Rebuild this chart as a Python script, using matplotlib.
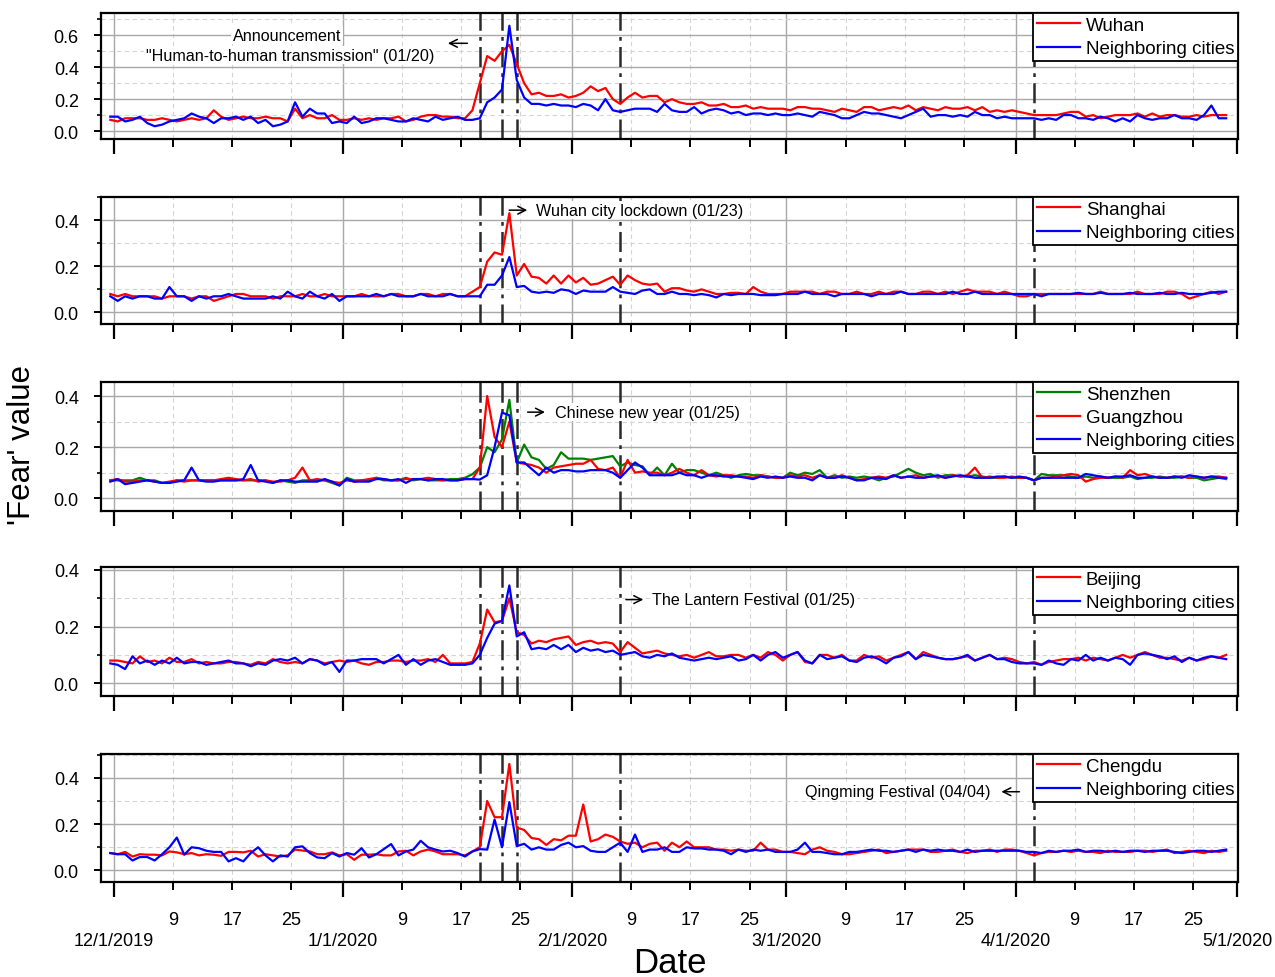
import numpy as np
import matplotlib
matplotlib.use("Agg")
import matplotlib.pyplot as plt
from matplotlib.ticker import MultipleLocator, FormatStrFormatter

plt.rcParams['font.family'] = ['Liberation Sans', 'DejaVu Sans']

# ---------------- data (daily, 12/1/2019 .. 4/30/2020) ----------------
wuhan = [
    # Dec
    0.07,0.06,0.08,0.08,0.08,0.07,0.07,0.08,0.07,0.06, 0.07,0.08,0.07,0.08,0.13,0.09,0.07,0.08,0.09,0.08,
    0.08,0.09,0.08,0.08,0.06,0.14,0.08,0.10,0.08,0.08,0.10,
    # Jan
    0.07,0.07,0.08,0.07,0.08,0.07,0.08,0.08,0.09,0.06, 0.07,0.09,0.10,0.10,0.09,0.09,0.08,0.08,0.13,0.30,
    0.47,0.44,0.50,0.54,0.42,0.30,0.23,0.24,0.22,0.22,0.23,
    # Feb
    0.21,0.22,0.24,0.28,0.25,0.27,0.20,0.17,0.21,0.24, 0.21,0.22,0.22,0.18,0.20,0.18,0.17,0.17,0.18,0.16,
    0.16,0.17,0.15,0.15,0.16,0.14,0.15,0.14,0.14,
    # Mar
    0.14,0.13,0.15,0.15,0.14,0.14,0.13,0.12,0.14,0.13, 0.12,0.15,0.15,0.13,0.14,0.15,0.14,0.16,0.13,0.15,
    0.14,0.13,0.15,0.14,0.14,0.15,0.13,0.15,0.12,0.13,0.12,
    # Apr
    0.13,0.12,0.11,0.10,0.10,0.10,0.10,0.11,0.12,0.12, 0.09,0.10,0.08,0.09,0.10,0.10,0.10,0.11,0.09,0.11,
    0.09,0.10,0.10,0.09,0.09,0.10,0.09,0.10,0.10,0.10]
wuhan_nb = [
    0.09,0.09,0.06,0.07,0.09,0.05,0.03,0.04,0.06,0.07, 0.08,0.11,0.09,0.08,0.05,0.08,0.08,0.09,0.07,0.09,
    0.05,0.07,0.03,0.04,0.06,0.18,0.09,0.14,0.11,0.11,0.05,
    0.06,0.05,0.09,0.05,0.06,0.08,0.08,0.07,0.06,0.06, 0.08,0.07,0.06,0.09,0.07,0.08,0.09,0.07,0.07,0.08,
    0.18,0.21,0.26,0.66,0.32,0.21,0.17,0.17,0.16,0.17,0.16,
    0.16,0.15,0.17,0.16,0.13,0.20,0.13,0.12,0.13,0.14, 0.14,0.14,0.12,0.17,0.13,0.12,0.12,0.15,0.11,0.13,
    0.14,0.13,0.11,0.12,0.10,0.11,0.11,0.10,0.11,
    0.10,0.10,0.11,0.10,0.09,0.12,0.11,0.10,0.08,0.08, 0.10,0.12,0.11,0.11,0.10,0.09,0.08,0.10,0.12,0.14,
    0.09,0.10,0.10,0.09,0.10,0.09,0.12,0.10,0.10,0.08,0.09,
    0.08,0.08,0.08,0.08,0.07,0.08,0.07,0.10,0.10,0.08, 0.08,0.07,0.09,0.08,0.06,0.08,0.06,0.10,0.08,0.07,
    0.08,0.08,0.10,0.08,0.08,0.07,0.10,0.16,0.08,0.08]

shanghai = [
    0.08,0.07,0.08,0.07,0.07,0.07,0.07,0.06,0.07,0.07, 0.07,0.06,0.07,0.07,0.05,0.06,0.07,0.08,0.08,0.07,
    0.07,0.07,0.06,0.07,0.07,0.07,0.08,0.07,0.07,0.08,0.07,
    0.07,0.07,0.07,0.08,0.07,0.07,0.07,0.08,0.08,0.07, 0.07,0.08,0.08,0.07,0.08,0.08,0.07,0.07,0.09,0.11,
    0.22,0.26,0.25,0.43,0.16,0.21,0.155,0.15,0.125,0.16,0.125,
    0.16,0.13,0.15,0.12,0.125,0.14,0.155,0.12,0.16,0.14, 0.125,0.12,0.125,0.09,0.105,0.105,0.095,0.09,0.10,0.09,
    0.08,0.08,0.085,0.085,0.08,0.11,0.09,0.08,0.08,
    0.08,0.09,0.09,0.09,0.09,0.08,0.09,0.09,0.08,0.08, 0.09,0.08,0.08,0.09,0.08,0.09,0.09,0.08,0.08,0.09,
    0.09,0.08,0.09,0.08,0.09,0.10,0.09,0.09,0.09,0.08,0.09,
    0.08,0.07,0.07,0.08,0.08,0.08,0.08,0.08,0.08,0.08, 0.08,0.08,0.09,0.08,0.08,0.08,0.08,0.09,0.08,0.08,
    0.08,0.09,0.09,0.08,0.06,0.07,0.08,0.09,0.08,0.09]
shanghai_nb = [
    0.07,0.05,0.07,0.06,0.07,0.07,0.06,0.06,0.11,0.07, 0.07,0.05,0.07,0.06,0.07,0.07,0.08,0.07,0.06,0.06,
    0.06,0.06,0.07,0.06,0.09,0.07,0.06,0.09,0.07,0.06,0.08,
    0.05,0.07,0.07,0.07,0.07,0.08,0.07,0.08,0.07,0.07, 0.07,0.08,0.07,0.07,0.07,0.08,0.07,0.07,0.07,0.07,
    0.12,0.12,0.16,0.24,0.11,0.115,0.09,0.085,0.09,0.085,0.10,
    0.095,0.08,0.095,0.09,0.09,0.09,0.11,0.09,0.085,0.08, 0.095,0.10,0.08,0.08,0.09,0.08,0.08,0.075,0.08,0.075,
    0.065,0.08,0.075,0.08,0.08,0.08,0.075,0.075,0.075,
    0.08,0.08,0.08,0.09,0.08,0.08,0.08,0.07,0.08,0.08, 0.08,0.08,0.07,0.08,0.08,0.08,0.09,0.08,0.08,0.08,
    0.08,0.08,0.08,0.09,0.08,0.08,0.09,0.08,0.08,0.08,0.08,
    0.08,0.08,0.08,0.08,0.07,0.08,0.08,0.08,0.08,0.085, 0.08,0.08,0.085,0.08,0.08,0.08,0.085,0.08,0.08,0.08,
    0.085,0.08,0.08,0.085,0.08,0.08,0.08,0.085,0.09,0.09]

shenzhen = [
    0.07,0.07,0.07,0.07,0.08,0.07,0.07,0.06,0.06,0.07, 0.07,0.07,0.07,0.07,0.07,0.07,0.07,0.07,0.07,0.07,
    0.07,0.07,0.06,0.07,0.065,0.06,0.07,0.07,0.07,0.07,0.06,
    0.05,0.08,0.07,0.07,0.07,0.08,0.07,0.07,0.07,0.08, 0.07,0.075,0.07,0.07,0.07,0.075,0.075,0.08,0.094,0.12,
    0.20,0.18,0.23,0.385,0.14,0.21,0.16,0.15,0.115,0.13,0.18,
    0.155,0.155,0.155,0.15,0.155,0.16,0.165,0.125,0.14,0.13, 0.125,0.09,0.12,0.09,0.135,0.10,0.11,0.11,0.10,0.09,
    0.10,0.09,0.08,0.09,0.095,0.09,0.09,0.085,0.08,
    0.08,0.10,0.09,0.10,0.095,0.11,0.08,0.09,0.08,0.085, 0.08,0.085,0.08,0.07,0.08,0.085,0.10,0.115,0.10,0.09,
    0.095,0.08,0.09,0.09,0.085,0.085,0.09,0.085,0.08,0.08,0.085,
    0.08,0.08,0.08,0.07,0.095,0.09,0.09,0.09,0.085,0.08, 0.085,0.08,0.085,0.08,0.08,0.08,0.085,0.075,0.08,0.08,
    0.085,0.08,0.08,0.085,0.08,0.08,0.07,0.075,0.08,0.075]
guangzhou = [
    0.07,0.075,0.065,0.065,0.07,0.07,0.065,0.06,0.065,0.07, 0.065,0.07,0.07,0.07,0.07,0.075,0.08,0.075,0.07,0.075,
    0.065,0.07,0.065,0.065,0.07,0.08,0.12,0.07,0.075,0.07,0.065,
    0.06,0.07,0.065,0.07,0.075,0.08,0.075,0.07,0.07,0.075, 0.075,0.075,0.08,0.075,0.07,0.07,0.07,0.075,0.075,0.12,
    0.40,0.24,0.20,0.30,0.14,0.135,0.13,0.12,0.10,0.12,0.125,
    0.13,0.135,0.135,0.15,0.115,0.11,0.12,0.08,0.15,0.10, 0.105,0.10,0.10,0.09,0.10,0.115,0.10,0.09,0.11,0.09,
    0.085,0.09,0.09,0.085,0.085,0.08,0.09,0.085,0.08,
    0.08,0.09,0.085,0.09,0.08,0.09,0.08,0.08,0.09,0.08, 0.07,0.075,0.08,0.085,0.08,0.09,0.08,0.085,0.09,0.08,
    0.085,0.085,0.08,0.09,0.085,0.09,0.12,0.08,0.085,0.08,0.08,
    0.085,0.08,0.08,0.07,0.08,0.08,0.085,0.09,0.095,0.09, 0.065,0.075,0.08,0.08,0.085,0.08,0.11,0.09,0.095,0.085,
    0.08,0.08,0.085,0.085,0.08,0.085,0.08,0.085,0.085,0.08]
guangdong_nb = [
    0.065,0.075,0.055,0.06,0.065,0.07,0.065,0.06,0.06,0.065, 0.07,0.12,0.07,0.065,0.065,0.07,0.07,0.07,0.075,0.13,
    0.07,0.065,0.06,0.07,0.07,0.065,0.065,0.065,0.065,0.075,0.065,
    0.05,0.075,0.065,0.065,0.065,0.075,0.075,0.07,0.075,0.06, 0.075,0.075,0.07,0.075,0.075,0.07,0.07,0.075,0.075,0.073,
    0.09,0.20,0.335,0.325,0.14,0.14,0.115,0.09,0.12,0.10,0.11,
    0.11,0.105,0.105,0.11,0.11,0.11,0.10,0.08,0.11,0.14, 0.12,0.09,0.09,0.09,0.09,0.10,0.09,0.09,0.08,0.09,
    0.09,0.085,0.085,0.085,0.08,0.075,0.085,0.08,0.085,
    0.08,0.085,0.08,0.08,0.07,0.09,0.08,0.08,0.085,0.08, 0.07,0.07,0.08,0.08,0.075,0.09,0.08,0.085,0.08,0.08,
    0.085,0.09,0.08,0.085,0.09,0.085,0.08,0.08,0.08,0.085,0.085,
    0.08,0.085,0.08,0.07,0.08,0.08,0.08,0.08,0.08,0.08, 0.095,0.09,0.085,0.08,0.085,0.085,0.09,0.08,0.08,0.085,
    0.08,0.08,0.085,0.08,0.09,0.085,0.08,0.085,0.08,0.08]

beijing = [
    0.08,0.08,0.075,0.07,0.095,0.075,0.08,0.07,0.09,0.075, 0.075,0.085,0.07,0.075,0.07,0.07,0.075,0.075,0.07,0.065,
    0.075,0.07,0.085,0.075,0.07,0.075,0.07,0.085,0.08,0.07,0.075,
    0.08,0.075,0.08,0.07,0.065,0.075,0.075,0.08,0.08,0.075, 0.08,0.08,0.085,0.075,0.10,0.07,0.07,0.07,0.075,0.14,
    0.26,0.215,0.22,0.30,0.18,0.17,0.14,0.15,0.145,0.155,0.16,
    0.165,0.135,0.145,0.15,0.14,0.145,0.14,0.11,0.145,0.125, 0.105,0.11,0.115,0.105,0.10,0.095,0.10,0.09,0.10,0.11,
    0.095,0.095,0.10,0.10,0.09,0.10,0.09,0.11,0.10,
    0.08,0.10,0.11,0.075,0.07,0.10,0.10,0.09,0.10,0.08, 0.08,0.10,0.09,0.095,0.08,0.09,0.10,0.11,0.085,0.11,
    0.10,0.09,0.085,0.085,0.09,0.095,0.08,0.09,0.10,0.085,0.09,
    0.085,0.075,0.07,0.075,0.065,0.075,0.08,0.085,0.085,0.09, 0.08,0.09,0.085,0.08,0.09,0.10,0.09,0.10,0.11,0.10,
    0.09,0.09,0.085,0.08,0.09,0.08,0.085,0.095,0.09,0.10]
beijing_nb = [
    0.07,0.065,0.05,0.095,0.07,0.08,0.065,0.08,0.07,0.09, 0.07,0.075,0.075,0.065,0.07,0.075,0.08,0.07,0.07,0.06,
    0.07,0.065,0.08,0.085,0.08,0.09,0.07,0.085,0.08,0.065,0.075,
    0.04,0.08,0.08,0.085,0.085,0.085,0.07,0.085,0.10,0.065, 0.085,0.065,0.08,0.085,0.075,0.065,0.065,0.065,0.07,0.10,
    0.16,0.21,0.22,0.345,0.165,0.18,0.12,0.125,0.12,0.135,0.12,
    0.135,0.11,0.125,0.115,0.12,0.11,0.115,0.10,0.105,0.11, 0.095,0.09,0.10,0.095,0.105,0.09,0.085,0.08,0.085,0.09,
    0.085,0.09,0.095,0.08,0.085,0.10,0.08,0.10,0.11,
    0.09,0.10,0.11,0.08,0.07,0.10,0.085,0.09,0.095,0.08, 0.075,0.09,0.095,0.085,0.07,0.09,0.095,0.11,0.085,0.10,
    0.095,0.09,0.085,0.085,0.09,0.10,0.08,0.09,0.10,0.085,0.085,
    0.075,0.07,0.07,0.07,0.065,0.08,0.07,0.065,0.085,0.08, 0.10,0.08,0.09,0.08,0.09,0.085,0.065,0.10,0.105,0.10,
    0.095,0.085,0.095,0.075,0.09,0.08,0.09,0.095,0.09,0.085]

chengdu = [
    0.075,0.07,0.08,0.06,0.07,0.068,0.068,0.065,0.082,0.078, 0.07,0.075,0.065,0.07,0.068,0.063,0.08,0.08,0.078,0.085,
    0.06,0.07,0.065,0.06,0.065,0.09,0.086,0.082,0.07,0.07,0.078,
    0.065,0.07,0.046,0.068,0.068,0.07,0.065,0.065,0.082,0.085, 0.065,0.082,0.09,0.082,0.07,0.07,0.07,0.065,0.082,0.10,
    0.30,0.23,0.23,0.46,0.185,0.175,0.14,0.135,0.11,0.135,0.13,
    0.15,0.15,0.285,0.125,0.135,0.155,0.145,0.125,0.115,0.12, 0.10,0.115,0.12,0.085,0.12,0.10,0.125,0.10,0.10,0.10,
    0.09,0.09,0.085,0.09,0.085,0.085,0.12,0.09,0.09,
    0.08,0.08,0.075,0.07,0.09,0.10,0.085,0.08,0.07,0.07, 0.075,0.08,0.085,0.09,0.075,0.08,0.085,0.09,0.09,0.09,
    0.08,0.08,0.085,0.09,0.08,0.075,0.085,0.085,0.09,0.08,0.09,
    0.09,0.085,0.075,0.065,0.075,0.08,0.08,0.085,0.08,0.085, 0.08,0.08,0.075,0.085,0.08,0.08,0.08,0.085,0.085,0.08,
    0.085,0.09,0.075,0.08,0.085,0.08,0.075,0.085,0.08,0.085]
chengdu_nb = [
    0.075,0.07,0.07,0.043,0.058,0.058,0.043,0.07,0.10,0.142, 0.068,0.10,0.096,0.085,0.08,0.08,0.039,0.053,0.039,0.075,
    0.10,0.065,0.039,0.065,0.06,0.10,0.104,0.075,0.056,0.053,0.075,
    0.06,0.075,0.068,0.096,0.056,0.07,0.092,0.114,0.065,0.082, 0.09,0.128,0.10,0.09,0.082,0.085,0.075,0.06,0.082,0.092,
    0.09,0.22,0.10,0.295,0.105,0.115,0.09,0.10,0.09,0.09,0.11,
    0.12,0.10,0.105,0.085,0.08,0.08,0.10,0.12,0.08,0.155, 0.08,0.09,0.09,0.10,0.08,0.08,0.10,0.095,0.095,0.09,
    0.09,0.085,0.07,0.09,0.08,0.09,0.085,0.09,0.08,
    0.08,0.08,0.09,0.12,0.08,0.08,0.075,0.07,0.07,0.08, 0.08,0.085,0.09,0.085,0.085,0.08,0.085,0.09,0.08,0.09,
    0.085,0.09,0.085,0.085,0.08,0.09,0.08,0.085,0.085,0.085,0.085,
    0.085,0.085,0.08,0.08,0.075,0.085,0.08,0.085,0.085,0.09, 0.08,0.085,0.085,0.08,0.085,0.08,0.085,0.085,0.08,0.085,
    0.085,0.085,0.08,0.075,0.08,0.085,0.085,0.08,0.085,0.09]

major_days = [0, 31, 62, 91, 122, 152]
major_labels = ["12/1/2019", "1/1/2020", "2/1/2020", "3/1/2020", "4/1/2020", "5/1/2020"]
minor_days = [8, 16, 24, 39, 47, 55, 70, 78, 86, 99, 107, 115, 130, 138, 146]
minor_labels = ["9", "17", "25"] * 5
event_days = [50, 53, 55, 69, 125]   # 01/20, 01/23, 01/25, 02/08, 04/04

series_sets = [
    [("Wuhan", wuhan, "#ff0000"), ("Neighboring cities", wuhan_nb, "#0000ff")],
    [("Shanghai", shanghai, "#ff0000"), ("Neighboring cities", shanghai_nb, "#0000ff")],
    [("Shenzhen", shenzhen, "#008000"), ("Guangzhou", guangzhou, "#ff0000"),
     ("Neighboring cities", guangdong_nb, "#0000ff")],
    [("Beijing", beijing, "#ff0000"), ("Neighboring cities", beijing_nb, "#0000ff")],
    [("Chengdu", chengdu, "#ff0000"), ("Neighboring cities", chengdu_nb, "#0000ff")],
]
for grp in series_sets:
    for name, s, c in grp:
        assert len(s) == 152, (name, len(s))

ylims = [(-0.05, 0.74), (-0.05, 0.5), (-0.05, 0.455), (-0.045, 0.41), (-0.05, 0.503)]
ymaxtick = [0.6, 0.4, 0.4, 0.4, 0.4]
panel_events = [[0, 1, 2, 3, 4], [0, 1, 3, 4], [0, 1, 2, 3, 4], [0, 1, 2, 3, 4], [0, 1, 2, 3, 4]]
boxes = [(14, 140), (198, 325), (383, 512), (568, 697), (755, 883)]

W, H = 1275, 978
fig = plt.figure(figsize=(12.75, 9.78), dpi=100)
axes = []
for k, (t, b) in enumerate(boxes):
    ax = fig.add_axes([101 / W, 1 - b / H, (1238 - 101) / W, (b - t) / H])
    axes.append(ax)
    for name, s, c in series_sets[k]:
        x = np.arange(len(s)) - 0.5
        ax.plot(x, s, color=c, lw=1.6, label=name, zorder=3)
    for e in panel_events[k]:
        ax.axvline(event_days[e] - 0.5, color="#2a2a2a", lw=1.8,
                   linestyle=(0, (8, 2.5, 1.5, 2.5)), zorder=2)
    ax.set_xlim(-1.76, 152.1)
    ax.set_ylim(*ylims[k])
    ax.set_yticks(np.arange(0, ymaxtick[k] + 0.01, 0.2))
    ax.yaxis.set_minor_locator(MultipleLocator(0.1))
    ax.yaxis.set_major_formatter(FormatStrFormatter('%.1f'))
    ax.set_xticks(major_days)
    ax.set_xticks(minor_days, minor=True)
    ax.grid(True, which='major', color='#a8a8a8', lw=1.0, zorder=0)
    ax.grid(True, which='minor', color='#d4d4d4', lw=0.8, linestyle=(0, (4, 3)), zorder=0)
    ax.set_axisbelow(True)
    for sp in ax.spines.values():
        sp.set_linewidth(1.6)
    ax.tick_params(axis='y', which='major', direction='out', length=5, width=1.4,
                   labelsize=13, pad=11)
    ax.tick_params(axis='y', which='minor', direction='out', length=3, width=1.2)
    ax.tick_params(axis='x', which='major', direction='out', length=11, width=1.6)
    ax.tick_params(axis='x', which='minor', direction='out', length=6, width=1.4)
    if k < 4:
        ax.tick_params(axis='x', which='both', labelbottom=False)
    else:
        ax.set_xticklabels(major_labels)
        ax.set_xticklabels(minor_labels, minor=True)
        ax.tick_params(axis='x', which='major', pad=25, labelsize=13)
        ax.tick_params(axis='x', which='minor', pad=15, labelsize=13)
    leg = ax.legend(loc='upper right', fontsize=13.5, frameon=True, fancybox=False,
                    edgecolor='black', framealpha=1, borderaxespad=0, borderpad=0.2,
                    labelspacing=0.33, handlelength=2.3, handletextpad=0.3)
    leg.get_frame().set_linewidth(1.3)
    leg.set_zorder(5)

arrow = dict(arrowstyle='->', lw=1.1, color='black', mutation_scale=14)
bb = dict(facecolor='white', edgecolor='none', pad=1.0)
afs = 11.6

ax = axes[0]
ax.text(23.4, 0.6, "Announcement", ha='center', va='center', fontsize=afs, bbox=bb, zorder=4)
ax.text(23.8, 0.475, "\"Human-to-human transmission\" (01/20)", ha='center', va='center',
        fontsize=afs, bbox=bb, zorder=4)
ax.annotate('', xy=(44.8, 0.55), xytext=(48.2, 0.55), arrowprops=arrow)

ax = axes[1]
ax.annotate('', xy=(56.3, 0.443), xytext=(53.1, 0.443), arrowprops=arrow)
ax.text(57.1, 0.443, "Wuhan city lockdown (01/23)", ha='left', va='center', fontsize=afs,
        bbox=bb, zorder=4)

ax = axes[2]
ax.annotate('', xy=(58.7, 0.337), xytext=(55.6, 0.337), arrowprops=arrow)
ax.text(59.7, 0.337, "Chinese new year (01/25)", ha='left', va='center', fontsize=afs,
        bbox=bb, zorder=4)

ax = axes[3]
ax.annotate('', xy=(72.0, 0.295), xytext=(68.9, 0.295), arrowprops=arrow)
ax.text(72.8, 0.295, "The Lantern Festival (01/25)", ha='left', va='center', fontsize=afs,
        bbox=bb, zorder=4)

ax = axes[4]
ax.text(118.6, 0.34, "Qingming Festival (04/04)", ha='right', va='center', fontsize=afs,
        bbox=bb, zorder=4)
ax.annotate('', xy=(119.7, 0.34), xytext=(122.9, 0.34), arrowprops=arrow)

fig.text(22 / W, 1 - 445 / H, "'Fear' value", rotation=90, ha='center', va='center', fontsize=22.5)
fig.text(670 / W, 1 - 964 / H, "Date", ha='center', va='center', fontsize=25)

fig.savefig("out.png", dpi=100)
